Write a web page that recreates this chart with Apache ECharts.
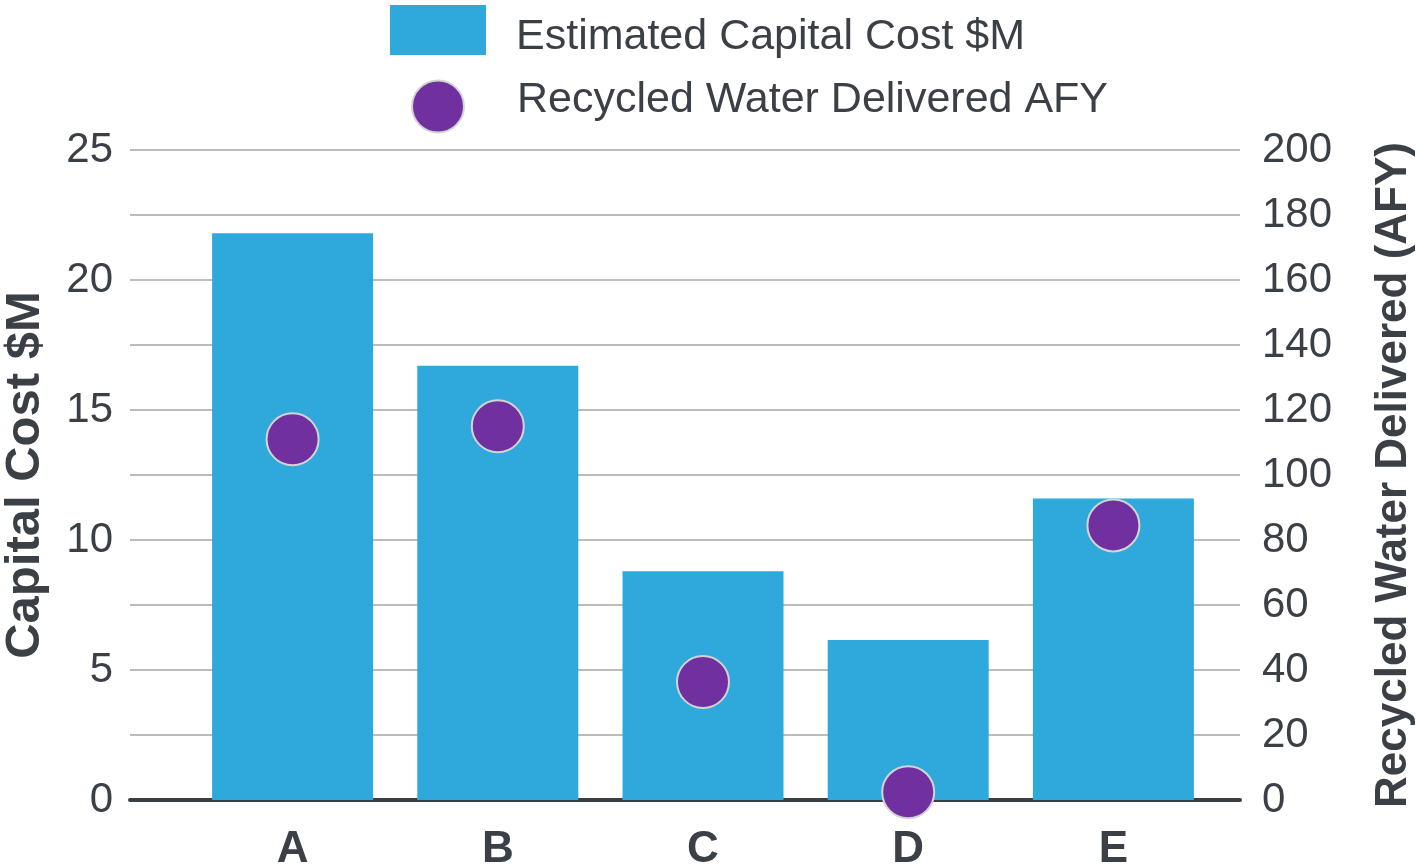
<!DOCTYPE html>
<html>
<head>
<meta charset="utf-8">
<script src="https://cdn.jsdelivr.net/npm/echarts@6/dist/echarts.min.js"></script>
<style>
  html, body { margin: 0; padding: 0; background: #ffffff; }
  #chart { width: 1416px; height: 867px; }
</style>
</head>
<body>
<div id="chart"></div>
<script>
// Projects and their figures
const categories = ['A', 'B', 'C', 'D', 'E'];
const capitalCost = [21.8, 16.7, 8.8, 6.15, 11.6];      // $M
const recycledWater = [111, 115, 36.3, 2.4, 84.5];       // AFY
const costTicks = { min: 0, max: 25, interval: 5 };
const waterTicks = { min: 0, max: 200, interval: 20 };

const costName = 'Estimated Capital Cost $M';
const waterName = 'Recycled Water Delivered AFY';

const textColor = '#3b4046';
const font = 'Liberation Sans, Arial, sans-serif';
const barColor = '#2fa9dc';
const dotColor = '#7030a0';

const chart = echarts.init(document.getElementById('chart'));

const legendLabel = {
  fontFamily: font, fontSize: 43, color: textColor,
  rich: {
    low: { fontFamily: font, fontSize: 43, color: textColor, padding: [14, 0, 0, 25] },
    high: { fontFamily: font, fontSize: 43, color: textColor, padding: [0, 0, 12, 48] }
  }
};

chart.setOption({
  animation: false,
  backgroundColor: '#ffffff',
  legend: [
    {
      left: 390, top: 5, padding: 0, itemWidth: 96, itemHeight: 50,
      textStyle: legendLabel,
      formatter: name => '{low|' + name + '}',
      data: [{ name: costName, icon: 'rect' }]
    },
    {
      left: 411, top: 79, padding: 0, itemWidth: 52, itemHeight: 52,
      textStyle: legendLabel,
      formatter: name => '{high|' + name + '}',
      data: [{ name: waterName, icon: 'circle' }]
    }
  ],
  grid: [
    // frame with axes, gridlines and baseline
    { left: 130, right: 176, top: 150, bottom: 67, outerBoundsMode: 'none' },
    // inner band where the categories sit
    { left: 190, right: 200, top: 150, bottom: 67, outerBoundsMode: 'none' }
  ],
  xAxis: [
    {
      gridIndex: 0, type: 'value', min: 0, max: 1,
      axisLine: { show: true, lineStyle: { color: '#3a3f44', width: 4 } },
      axisTick: { show: false }, axisLabel: { show: false }, splitLine: { show: false }
    },
    {
      gridIndex: 1, type: 'category', data: categories,
      axisLine: { show: false }, axisTick: { show: false },
      axisLabel: { margin: 28, fontFamily: font, fontSize: 44, fontWeight: 'bold', color: textColor }
    }
  ],
  yAxis: [
    {
      gridIndex: 0, type: 'value', position: 'left',
      min: costTicks.min, max: costTicks.max, interval: costTicks.interval,
      name: 'Capital Cost $M', nameLocation: 'middle', nameGap: 80, nameRotate: 90,
      nameTextStyle: { fontFamily: font, fontSize: 49, fontWeight: 'bold', color: textColor },
      axisLine: { show: false }, axisTick: { show: false }, splitLine: { show: false },
      axisLabel: { margin: 17, fontFamily: font, fontSize: 42, color: textColor }
    },
    {
      gridIndex: 0, type: 'value', position: 'right',
      min: waterTicks.min, max: waterTicks.max, interval: waterTicks.interval,
      name: 'Recycled Water Delivered (AFY)', nameLocation: 'middle', nameGap: 132, nameRotate: 90,
      nameTextStyle: { fontFamily: font, fontSize: 44, fontWeight: 'bold', color: textColor },
      axisLine: { show: false }, axisTick: { show: false },
      splitLine: { show: true, lineStyle: { color: '#bcbcbc', width: 2 } },
      axisLabel: { margin: 22, fontFamily: font, fontSize: 42, color: textColor }
    },
    {
      gridIndex: 1, type: 'value', min: costTicks.min, max: costTicks.max, show: false
    },
    {
      gridIndex: 1, type: 'value', min: waterTicks.min, max: waterTicks.max, show: false
    }
  ],
  series: [
    {
      name: costName,
      type: 'bar',
      xAxisIndex: 1, yAxisIndex: 2,
      barWidth: 161,
      itemStyle: { color: barColor, opacity: 1 },
      data: capitalCost,
      z: 2
    },
    {
      name: waterName,
      type: 'scatter',
      xAxisIndex: 1, yAxisIndex: 3,
      symbol: 'circle',
      symbolSize: 52,
      itemStyle: { color: dotColor, opacity: 1, borderColor: '#d4d4d4', borderWidth: 2 },
      data: recycledWater,
      z: 5
    }
  ]
});
</script>
</body>
</html>
